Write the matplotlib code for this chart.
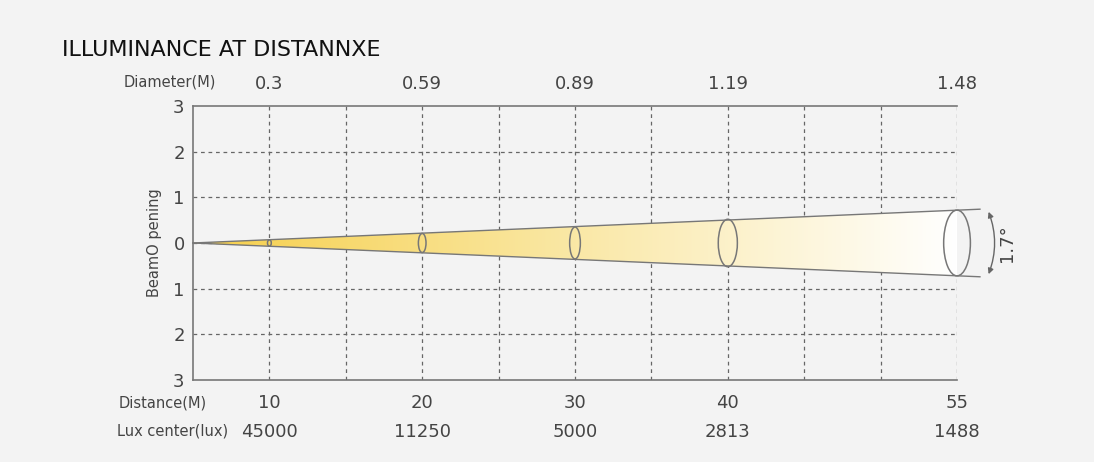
import numpy as np
import matplotlib.pyplot as plt
from matplotlib.patches import Polygon, Ellipse, FancyArrowPatch
from matplotlib.colors import LinearSegmentedColormap
import matplotlib.transforms as mtransforms

# grid slots along the beam; labels sit on slots 1,3,5,7,10
slots = [1, 3, 5, 7, 10]
distance = ['10', '20', '30', '40', '55']
lux = ['45000', '11250', '5000', '2813', '1488']
diameter = ['0.3', '0.59', '0.89', '1.19', '1.48']
ell_w = [0.05, 0.1, 0.14, 0.25, 0.35]
ell_h = [0.14, 0.42, 0.7, 1.04, 1.44]
beam_end = 10.3
beam_half = 0.74
y_ticks = [3, 2, 1, 0, -1, -2, -3]

bg = '#f3f3f3'
fig = plt.figure(figsize=(10.94, 4.62), dpi=100, facecolor=bg)
ax = fig.add_axes([0.1764, 0.1775, 0.6984, 0.5931], facecolor=bg)

for x in range(1, 11):
    ax.axvline(x, color='#666666', ls=(0, (3, 3)), lw=0.9)
for y in [2, 1, 0, -1, -2]:
    ax.axhline(y, color='#666666', ls=(0, (3, 3)), lw=0.9)

# beam gradient, clipped to the cone
cmap = LinearSegmentedColormap.from_list('beam', ['#f6cf4a', '#fae8a6', '#ffffff'])
cone = Polygon([[0, 0], [10.0, beam_half * 10.0 / beam_end], [10.0, -beam_half * 10.0 / beam_end]],
               closed=True, fc='none', ec='none', transform=ax.transData)
ax.add_patch(cone)
grad = np.linspace(0, 1, 256).reshape(1, -1)
im = ax.imshow(grad, extent=[0, 10, -1, 1], cmap=cmap, aspect='auto', zorder=2)
im.set_clip_path(cone)
ax.plot([0, beam_end], [0, beam_half], color='#777777', lw=1.0, clip_on=False, zorder=3)
ax.plot([0, beam_end], [0, -beam_half], color='#777777', lw=1.0, clip_on=False, zorder=3)
ax.set_xlim(0, 10)
ax.set_ylim(-3, 3)

for s, w, h in zip(slots, ell_w, ell_h):
    ax.add_patch(Ellipse((s, 0), w, h, fc='none', ec='#777777', lw=1.1, zorder=4, clip_on=False))

arr = FancyArrowPatch((10.4, 0.74), (10.4, -0.74), connectionstyle='arc3,rad=-0.2',
                      arrowstyle='<|-|>', mutation_scale=8, color='#666666', lw=1, clip_on=False)
ax.add_patch(arr)
ax.text(10.65, 0, '1.7°', rotation=90, ha='center', va='center', fontsize=13, color='#444444')

ax.spines['right'].set_visible(False)
for sp in ['left', 'top', 'bottom']:
    ax.spines[sp].set_color('#777777')
    ax.spines[sp].set_linewidth(1.2)
ax.set_xticks([])
ax.set_yticks(y_ticks)
ax.set_yticklabels([str(abs(v)) for v in y_ticks], fontsize=13, color='#444444')
ax.tick_params(axis='y', length=0, pad=6)
ax.set_ylabel('BeamO pening', fontsize=10.5, color='#444444', labelpad=8)

tr = mtransforms.blended_transform_factory(ax.transData, fig.transFigure)
for s, d, l, dm in zip(slots, distance, lux, diameter):
    ax.text(s, 1 - 403 / 462, d, transform=tr, ha='center', va='center', fontsize=13, color='#444444')
    ax.text(s, 1 - 432 / 462, l, transform=tr, ha='center', va='center', fontsize=13, color='#444444')
    ax.text(s, 1 - 84 / 462, dm, transform=tr, ha='center', va='center', fontsize=13, color='#444444')

fig.text(170 / 1094, 1 - 82 / 462, 'Diameter(M)', ha='center', va='center', fontsize=10.5, color='#444444')
fig.text(163 / 1094, 1 - 403 / 462, 'Distance(M)', ha='center', va='center', fontsize=10.5, color='#444444')
fig.text(173 / 1094, 1 - 431 / 462, 'Lux center(lux)', ha='center', va='center', fontsize=10.5, color='#444444')
fig.text(62 / 1094, 1 - 50 / 462, 'ILLUMINANCE AT DISTANNXE', ha='left', va='center',
         fontsize=16, color='#111111', weight='medium')

fig.savefig('out.png', dpi=100, facecolor=bg)
